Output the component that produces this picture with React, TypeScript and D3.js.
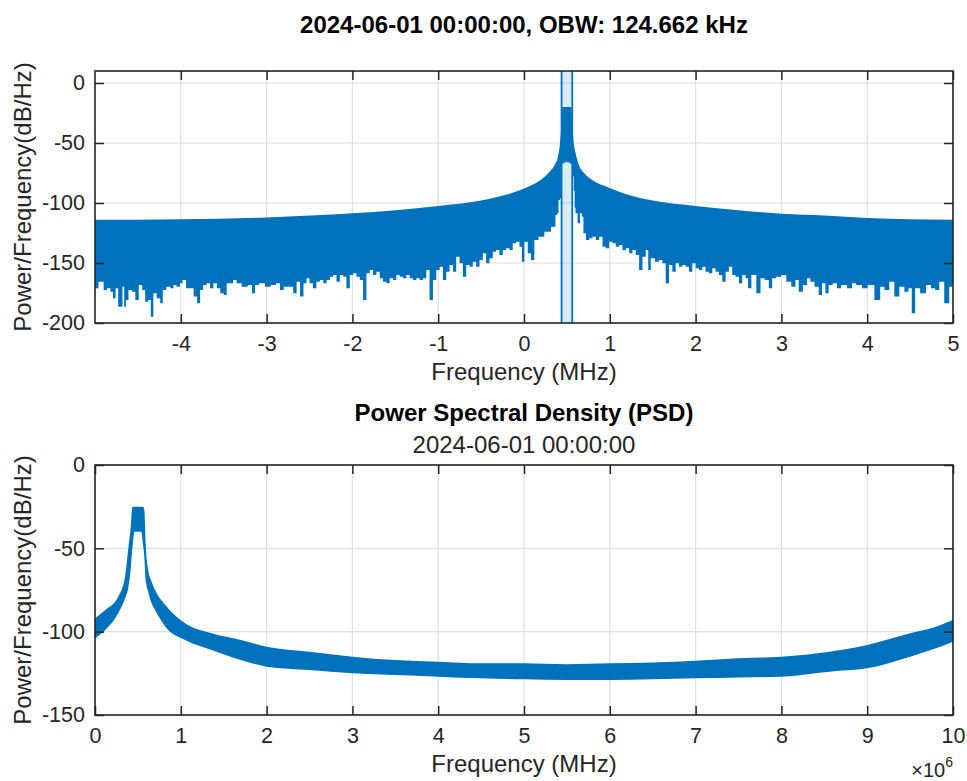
import React, { useRef, useEffect } from "react";
import * as d3 from "d3";

// two-sided spectrum with the OBW band (MHz, dB/Hz)
const topUpperFreq = [-5, -4, -3, -2.36, -2, -1.5, -1, -0.5, -0.2, 0, 0.2, 0.3, 0.36, 0.4, 0.42, 0.44, 0.448, 0.552, 0.56, 0.58, 0.6, 0.65, 0.7, 0.8, 0.97, 1.2, 1.5, 2, 2.5, 3, 3.5, 4, 4.5, 5];
const topUpperDb = [-114, -113.5, -112, -110, -108.6, -106, -102.5, -98, -93, -88, -80.5, -74, -68, -60, -50, -30, -20, -20, -30, -50, -58, -70, -75, -81, -86.7, -93, -98, -102.5, -106, -109, -110.5, -112.5, -113.5, -114];

// ragged lower edge of the noise floor, read left to right
const topLowerFreq = [
  -5, -4.919, -4.88, -4.84, -4.8, -4.78, -4.74, -4.72, -4.69, -4.67, -4.65, -4.63, -4.59, -4.55, -4.51, -4.47,
  -4.43, -4.4, -4.36, -4.34, -4.3, -4.26, -4.22, -4.2, -4.14, -4.1, -4.07, -4.03, -3.99, -3.97, -3.91, -3.87,
  -3.83, -3.79, -3.76, -3.72, -3.68, -3.64, -3.6, -3.56, -3.52, -3.48, -3.45, -3.41, -3.37, -3.33, -3.25, -3.19,
  -3.15, -3.12, -3.06, -2.98, -2.92, -2.86, -2.83, -2.77, -2.71, -2.67, -2.63, -2.59, -2.55, -2.52, -2.48, -2.44,
  -2.4, -2.36, -2.32, -2.28,
  -2.244, -2.205, -2.166, -2.127, -2.089, -2.05, -2.011, -1.972, -1.934, -1.895, -1.856, -1.817, -1.779, -1.74,
  -1.701, -1.662, -1.624, -1.585, -1.546, -1.507, -1.469, -1.43, -1.391, -1.352, -1.313, -1.275, -1.236, -1.197,
  -1.158, -1.12, -1.081, -1.042, -1.003, -0.964, -0.926, -0.887, -0.848, -0.81, -0.771, -0.732, -0.693, -0.654,
  -0.616, -0.577, -0.538, -0.499, -0.461, -0.422, -0.383, -0.344, -0.306, -0.267, -0.228, -0.189, -0.151, -0.112,
  -0.073, -0.034, -0.015, 0.024, 0.063, 0.101, 0.14, 0.198, 0.276, 0.353,
  0.38, 0.395, 0.41, 0.43, 0.44, 0.5, 0.555, 0.565, 0.575, 0.585, 0.595,
  0.605, 0.644, 0.663, 0.683, 0.702, 0.741, 0.779, 0.818, 0.857, 0.896, 0.934, 0.973, 1.012, 1.051, 1.09, 1.128,
  1.167, 1.206, 1.245, 1.283, 1.322, 1.361, 1.4, 1.438, 1.458, 1.497, 1.555, 1.593, 1.632, 1.671, 1.71, 1.748,
  1.787, 1.826, 1.865, 1.903, 1.942, 1.981, 2.02, 2.059, 2.097, 2.136, 2.175, 2.214, 2.252, 2.291, 2.33, 2.369,
  2.407, 2.446, 2.485, 2.524, 2.563, 2.601, 2.621,
  2.679, 2.737, 2.776, 2.834, 2.873, 2.911, 2.969, 3.028, 3.086, 3.144, 3.183, 3.221, 3.28, 3.318, 3.357, 3.415,
  3.454, 3.493, 3.531, 3.57, 3.628, 3.667, 3.725, 3.803, 3.842, 3.9, 3.977, 4.035, 4.132, 4.171, 4.229, 4.287,
  4.345, 4.404, 4.462, 4.5, 4.539, 4.578, 4.656, 4.714, 4.772, 4.811, 4.869, 4.927, 4.985, 5,
];
const topLowerDb = [
  -171.1, -165.6, -172.5, -171.1, -173.9, -179.4, -171.1, -186.4, -186.4, -169.7, -186.4, -180.8, -172.5, -173.9, -180.8, -168.3,
  -172.5, -182.2, -180.8, -194.7, -175.3, -179.4, -183.6, -172.5, -169.7, -171.1, -168.3, -169.7, -166.9, -164.2, -171.1, -171.1,
  -178, -183.6, -172.5, -168.3, -166.9, -171.1, -166.9, -171.1, -175.3, -176.7, -166.9, -166.9, -164.2, -166.9, -169.7, -168.3,
  -175.3, -168.3, -166.9, -169.7, -168.3, -166.9, -172.5, -169.7, -169.7, -175.3, -165.6, -178, -166.9, -162.8, -166.9, -171.1,
  -165.6, -164.2, -166.9, -164.2,
  -161.4, -160, -165.6, -160, -161.4, -171.1, -160, -158.6, -161.4, -164.2, -180.8, -158.6, -155.8, -160,
  -157.2, -162.8, -165.6, -166.9, -162.8, -164.2, -160, -161.4, -162.8, -160, -162.8, -164.2, -162.8, -164.2,
  -162.8, -155.8, -180.8, -164.2, -155.8, -153.1, -164.2, -157.2, -151.7, -157.2, -144.7, -150.3, -161.4, -151.7,
  -153.1, -148.9, -153.1, -147.5, -141.9, -150.3, -146.1, -140.6, -139.2, -143.3, -139.2, -137.8, -139.2, -133.6,
  -132.2, -136.4, -148.9, -132.2, -141.9, -147.5, -130.8, -128.1, -123.9, -119.7,
  -110, -108.6, -97.5, -96, -67, -66, -67, -70, -78, -90, -104,
  -108.6, -116.9, -108.6, -111.4, -125.3, -130.8, -129.4, -128.1, -130.8, -128.1, -136.4, -137.8, -132.2, -133.6, -136.4, -135,
  -139.2, -137.8, -141.9, -139.2, -143.3, -155.8, -144.7, -139.2, -155.8, -146.1, -148.9, -147.5, -150.3, -166.9, -151.7, -157.2,
  -150.3, -153.1, -151.7, -153.1, -157.2, -150.3, -154.4, -155.8, -153.1, -157.2, -158.6, -154.4, -157.2, -160, -165.6, -157.2,
  -153.1, -160, -161.4, -166.9, -160, -162.8, -171.1,
  -160, -175.3, -162.8, -164.2, -171.1, -162.8, -161.4, -160, -165.6, -169.7, -164.2, -173.9, -168.3, -162.8, -165.6, -169.7,
  -176.7, -166.9, -175.3, -168.3, -166.9, -171.1, -168.3, -171.1, -166.9, -168.3, -171.1, -168.3, -180.8, -169.7, -172.5, -165.6,
  -178, -169.7, -173.9, -171.1, -191.9, -171.1, -175.3, -168.3, -171.1, -172.5, -165.6, -183.6, -169.7, -168,
];
const obwEdges = [0.4377, 0.5623];
const topXTicks = [-4, -3, -2, -1, 0, 1, 2, 3, 4, 5];
const topYTicks = [0, -50, -100, -150, -200];

// one-sided PSD (MHz, dB/Hz)
const psdFreq = [0, 0.12, 0.27, 0.35, 0.39, 0.42, 0.43, 0.44, 0.46, 0.54, 0.56, 0.575, 0.59, 0.62, 0.66, 0.7, 0.82, 1.05, 1.36, 1.7, 2, 2.5, 3, 3.5, 4, 4.5, 5, 5.5, 6, 6.5, 7, 7.5, 8, 8.56, 9, 9.5, 9.8, 10];
const psdUpperDb = [-92, -87, -79, -67, -49, -35, -27, -25, -25, -25, -25, -27, -47, -63, -70, -75, -84, -95, -101, -105, -109, -112, -115, -117, -118, -119, -119, -119.5, -119, -118.5, -117.4, -116, -115, -112, -108, -101, -97, -93];
const psdLowerDb = [-104, -99, -89, -80, -73, -60, -53, -48, -40, -40, -48, -55, -69, -76, -83, -87, -97, -105, -111, -117, -121, -123, -125, -126, -127, -128, -128.6, -129, -129, -128.5, -128, -127.5, -127, -124, -122, -115, -110, -106];
const psdXTicks = [0, 1, 2, 3, 4, 5, 6, 7, 8, 9, 10];
const psdYTicks = [0, -50, -100, -150];

const BLUE = "#0072BD";
const AX = "#262626";
const GRID = "#dfdfdf";
const FONT = "'Liberation Sans', Arial, Helvetica, sans-serif";

const drawFrame = (g, x, y, xTicks, yTicks, box) => {
  const { left, right, top, bottom } = box;
  const fmt = (d) => String(d);

  // inward ticks on all four sides, labels only bottom/left
  const xb = g.append("g").attr("transform", `translate(0,${bottom})`)
    .call(d3.axisBottom(x).tickValues(xTicks).tickSize(-9).tickSizeOuter(0).tickPadding(13).tickFormat(fmt));
  const xt = g.append("g").attr("transform", `translate(0,${top})`)
    .call(d3.axisTop(x).tickValues(xTicks).tickSize(-9).tickSizeOuter(0).tickFormat(() => ""));
  const yl = g.append("g").attr("transform", `translate(${left},0)`)
    .call(d3.axisLeft(y).tickValues(yTicks).tickSize(-9).tickSizeOuter(0).tickPadding(10).tickFormat(fmt));
  const yr = g.append("g").attr("transform", `translate(${right},0)`)
    .call(d3.axisRight(y).tickValues(yTicks).tickSize(-9).tickSizeOuter(0).tickFormat(() => ""));

  [xb, xt, yl, yr].forEach((a) => {
    a.select(".domain").remove();
    a.attr("font-family", FONT).attr("font-size", 21.5);
    a.selectAll("line").attr("stroke", AX).attr("stroke-width", 1.5);
    a.selectAll("text").attr("fill", AX);
  });

  g.append("rect")
    .attr("x", left).attr("y", top)
    .attr("width", right - left).attr("height", bottom - top)
    .attr("fill", "none").attr("stroke", AX).attr("stroke-width", 1.6);
};

const drawGrid = (g, x, y, xTicks, yTicks, box) => {
  const { left, right, top, bottom } = box;
  g.append("g").selectAll("line").data(xTicks).join("line")
    .attr("x1", (d) => x(d)).attr("x2", (d) => x(d))
    .attr("y1", top).attr("y2", bottom)
    .attr("stroke", GRID).attr("stroke-width", 1.2);
  g.append("g").selectAll("line").data(yTicks).join("line")
    .attr("x1", left).attr("x2", right)
    .attr("y1", (d) => y(d)).attr("y2", (d) => y(d))
    .attr("stroke", GRID).attr("stroke-width", 1.2);
};

const App = () => {
  const svgRef = useRef(null);

  useEffect(() => {
    const svg = d3.select(svgRef.current);
    svg.selectAll("*").remove();

    const left = 95, right = 953;

    // ---------- top panel ----------
    const boxA = { left, right, top: 71, bottom: 323 };
    const xA = d3.scaleLinear().domain([-5, 5]).range([left, right]);
    const yA = d3.scaleLinear().domain([-200, 10]).range([boxA.bottom, boxA.top]);

    svg.append("clipPath").attr("id", "clipA").append("rect")
      .attr("x", left).attr("y", boxA.top).attr("width", right - left).attr("height", boxA.bottom - boxA.top);

    const gA = svg.append("g");
    drawGrid(gA, xA, yA, topXTicks, topYTicks, boxA);

    const dataA = gA.append("g").attr("clip-path", "url(#clipA)");

    // OBW band
    dataA.append("rect")
      .attr("x", xA(obwEdges[0])).attr("y", boxA.top)
      .attr("width", xA(obwEdges[1]) - xA(obwEdges[0])).attr("height", boxA.bottom - boxA.top)
      .attr("fill", BLUE).attr("fill-opacity", 0.14);

    const upperA = topUpperFreq.map((f, i) => [xA(f), yA(topUpperDb[i])]);
    const lowerA = topLowerFreq.map((f, i) => [xA(f), yA(topLowerDb[i])]).reverse();
    const upperPath = d3.line().curve(d3.curveMonotoneX)(upperA);
    const lowerPath = d3.line().curve(d3.curveStep)(lowerA);
    dataA.append("path")
      .attr("d", upperPath + lowerPath.replace(/^M/, "L") + "Z")
      .attr("fill", BLUE);

    dataA.append("g").selectAll("line").data(obwEdges).join("line")
      .attr("x1", (d) => xA(d)).attr("x2", (d) => xA(d))
      .attr("y1", boxA.top).attr("y2", boxA.bottom)
      .attr("stroke", BLUE).attr("stroke-width", 1.8);

    drawFrame(gA, xA, yA, topXTicks, topYTicks, boxA);

    // ---------- bottom panel ----------
    const boxB = { left, right, top: 465, bottom: 715 };
    const xB = d3.scaleLinear().domain([0, 10]).range([left, right]);
    const yB = d3.scaleLinear().domain([-150, 0]).range([boxB.bottom, boxB.top]);

    svg.append("clipPath").attr("id", "clipB").append("rect")
      .attr("x", left).attr("y", boxB.top).attr("width", right - left).attr("height", boxB.bottom - boxB.top);

    const gB = svg.append("g");
    drawGrid(gB, xB, yB, psdXTicks, psdYTicks, boxB);

    const areaB = d3.area()
      .curve(d3.curveMonotoneX)
      .x((d, i) => xB(psdFreq[i]))
      .y0((d, i) => yB(psdLowerDb[i]))
      .y1((d, i) => yB(psdUpperDb[i]));
    gB.append("g").attr("clip-path", "url(#clipB)")
      .append("path").attr("d", areaB(psdFreq)).attr("fill", BLUE);

    drawFrame(gB, xB, yB, psdXTicks, psdYTicks, boxB);

    // ---------- texts ----------
    const cx = (left + right) / 2;
    const txt = (x, y, s, size, weight, fill) =>
      svg.append("text").attr("x", x).attr("y", y).attr("text-anchor", "middle")
        .attr("font-family", FONT).attr("font-size", size).attr("font-weight", weight)
        .attr("fill", fill).text(s);

    txt(cx, 32.5, "2024-06-01 00:00:00, OBW: 124.662 kHz", 24, "bold", "#000");
    txt(cx, 380, "Frequency (MHz)", 24, "normal", AX);
    txt(cx, 421, "Power Spectral Density (PSD)", 24, "bold", "#000");
    txt(cx, 453, "2024-06-01 00:00:00", 24, "normal", AX);
    txt(cx, 772, "Frequency (MHz)", 24, "normal", AX);

    [(boxA.top + boxA.bottom) / 2, (boxB.top + boxB.bottom) / 2].forEach((cy) => {
      svg.append("text")
        .attr("transform", `translate(30.5,${cy}) rotate(-90)`)
        .attr("text-anchor", "middle")
        .attr("font-family", FONT).attr("font-size", 24).attr("fill", AX)
        .text("Power/Frequency(dB/Hz)");
    });

    const expo = svg.append("text").attr("x", right).attr("y", 777).attr("text-anchor", "end")
      .attr("font-family", FONT).attr("font-size", 20).attr("fill", AX);
    expo.append("tspan").text("×10");
    expo.append("tspan").attr("dy", -10).attr("font-size", 14).text("6");
  }, []);

  return (
    <svg
      ref={svgRef}
      width={967}
      height={781}
      style={{ position: "absolute", left: 0, top: 0, background: "#fff" }}
    ></svg>
  );
};

export default App;
